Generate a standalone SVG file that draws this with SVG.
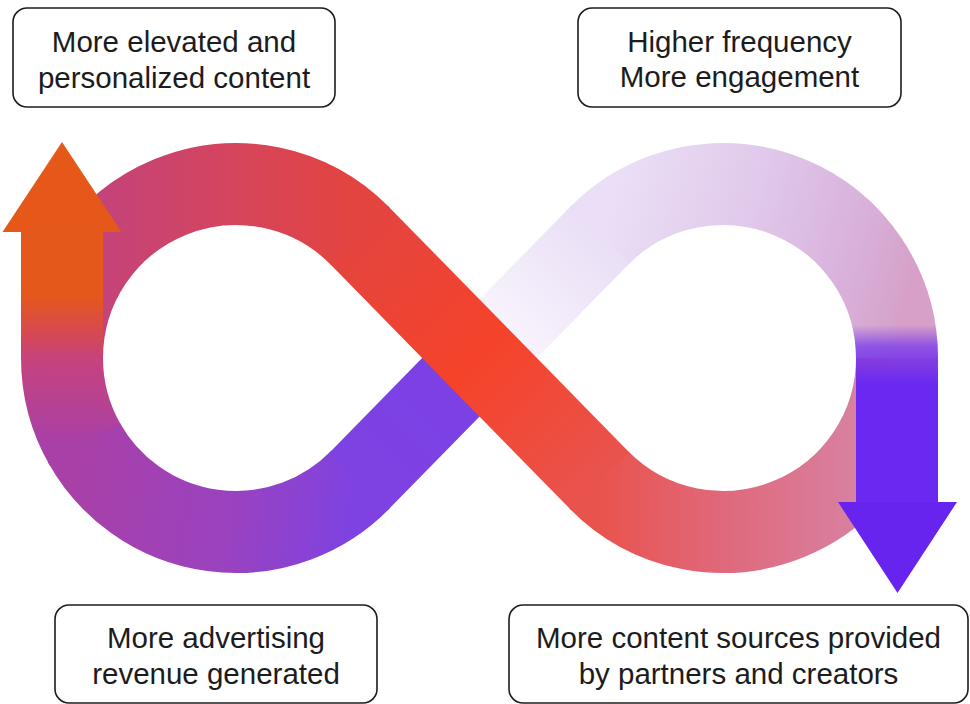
<svg xmlns="http://www.w3.org/2000/svg" width="970" height="704" viewBox="0 0 970 704">
<defs>
<style>
.box{fill:#ffffff;stroke:#1c1c1c;stroke-width:1.6}
.lbl{font-family:"Liberation Sans",Arial,Helvetica,sans-serif;font-size:29.5px;fill:#1c1c1c;text-anchor:middle}
.band{fill:none;stroke-width:82;stroke-linecap:butt;stroke-linejoin:round}
</style>
<linearGradient id="gLeftShaft" gradientUnits="userSpaceOnUse" x1="0" y1="232" x2="0" y2="358">
<stop offset="0" stop-color="#E5581C"/><stop offset="0.5" stop-color="#E5581C"/><stop offset="0.78" stop-color="#D84A4C"/><stop offset="1" stop-color="#C6437C"/>
</linearGradient>
<linearGradient id="gLowA" gradientUnits="userSpaceOnUse" x1="0" y1="358" x2="0" y2="445">
<stop offset="0" stop-color="#C6437C"/><stop offset="1" stop-color="#A840A8"/>
</linearGradient>
<linearGradient id="gLowB" gradientUnits="userSpaceOnUse" x1="85" y1="445" x2="360" y2="480">
<stop offset="0" stop-color="#A840A8"/><stop offset="0.55" stop-color="#9A42C0"/><stop offset="1" stop-color="#7E42E2"/>
</linearGradient>
<linearGradient id="gDiagUp" gradientUnits="userSpaceOnUse" x1="360" y1="480" x2="599" y2="236">
<stop offset="0" stop-color="#7E42E2"/><stop offset="0.5" stop-color="#7B40E6"/><stop offset="0.5" stop-color="#FBF9FE"/><stop offset="1" stop-color="#EADFF6"/>
</linearGradient>
<linearGradient id="gTopRight" gradientUnits="userSpaceOnUse" x1="600" y1="250" x2="900" y2="330">
<stop offset="0" stop-color="#EADFF6"/><stop offset="0.45" stop-color="#E0C8EA"/><stop offset="0.8" stop-color="#D8B0DA"/><stop offset="1" stop-color="#D6A0C8"/>
</linearGradient>
<linearGradient id="gBotRight" gradientUnits="userSpaceOnUse" x1="600" y1="0" x2="900" y2="0">
<stop offset="0" stop-color="#E9534D"/><stop offset="0.4" stop-color="#E0687A"/><stop offset="0.85" stop-color="#D880A0"/><stop offset="1" stop-color="#D68AAC"/>
</linearGradient>
<linearGradient id="gTopLeft" gradientUnits="userSpaceOnUse" x1="60" y1="0" x2="360" y2="0">
<stop offset="0" stop-color="#BC3F88"/><stop offset="0.13" stop-color="#C4437A"/><stop offset="0.59" stop-color="#D5455C"/><stop offset="1" stop-color="#E4443E"/>
</linearGradient>
<linearGradient id="gDiagDown" gradientUnits="userSpaceOnUse" x1="360" y1="236" x2="599" y2="480">
<stop offset="0" stop-color="#E4443E"/><stop offset="0.5" stop-color="#F5432A"/><stop offset="1" stop-color="#E9534D"/>
</linearGradient>
<linearGradient id="gRightShaft" gradientUnits="userSpaceOnUse" x1="0" y1="325" x2="0" y2="385">
<stop offset="0" stop-color="#6A28F0" stop-opacity="0"/><stop offset="0.35" stop-color="#6A28F0" stop-opacity="0.65"/><stop offset="1" stop-color="#6A28F0" stop-opacity="1"/>
</linearGradient>
</defs>
<rect width="970" height="704" fill="#ffffff"/>
<g id="connectors">
<!-- under strand: lower-left loop, rising diagonal, top-right loop -->
<path class="band" stroke="url(#gLowA)" d="M62 358 A174 174 0 0 0 85.3 445"/>
<path class="band" stroke="url(#gLowB)" d="M83.8 442.4 A174 174 0 0 0 360.3 479.7"/>
<path class="band" stroke="url(#gTopRight)" d="M598.7 236.3 A174 174 0 0 1 897 358"/>
<path class="band" stroke="url(#gDiagUp)" d="M358.9 481.1 L600.1 234.9"/>
<path class="band" stroke="url(#gBotRight)" d="M598.7 479.7 A174 174 0 0 0 897 358"/>
<!-- over strand: top-left loop, falling diagonal -->
<path class="band" stroke="url(#gTopLeft)" d="M62 358 A174 174 0 0 1 360.3 236.3"/>
<path class="band" stroke="url(#gDiagDown)" d="M358.9 234.9 L600.1 481.1"/>
<!-- left arrow -->
<path class="band" stroke="url(#gLeftShaft)" d="M62 359 L62 231"/>
<polygon points="62,142 121.5,232 2.5,232" fill="#E5581A"/>
<!-- right arrow -->
<path class="band" stroke="url(#gRightShaft)" d="M891.1 313 A174 174 0 0 1 897 358 L897 503"/>
<polygon points="838,502 957,502 897.5,593" fill="#6824EF"/>
</g>
<g id="node-elevated">
<rect class="box" x="13" y="8" width="322" height="99" rx="14"/>
<text class="lbl" x="174" y="52">More elevated and</text>
<text class="lbl" x="174" y="88">personalized content</text>
</g>
<g id="node-frequency">
<rect class="box" x="578" y="8" width="323" height="99" rx="14"/>
<text class="lbl" x="739.5" y="52">Higher frequency</text>
<text class="lbl" x="739.5" y="87">More engagement</text>
</g>
<g id="node-revenue">
<rect class="box" x="55" y="605" width="322" height="98" rx="14"/>
<text class="lbl" x="216" y="648">More advertising</text>
<text class="lbl" x="216" y="684">revenue generated</text>
</g>
<g id="node-sources">
<rect class="box" x="509" y="605" width="459" height="98" rx="14"/>
<text class="lbl" x="738.5" y="648">More content sources provided</text>
<text class="lbl" x="738.5" y="684">by partners and creators</text>
</g>
</svg>
